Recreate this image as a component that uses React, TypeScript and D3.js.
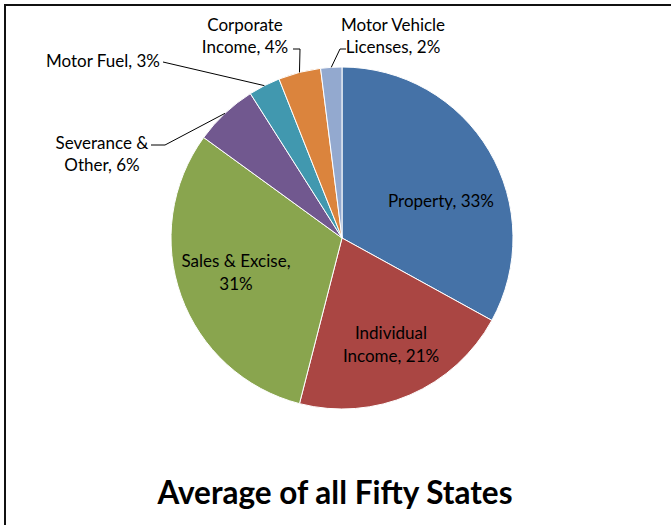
import * as d3 from "d3";
import { useEffect, useRef } from "react";

const categories = [
  "Property",
  "Individual Income",
  "Sales & Excise",
  "Severance & Other",
  "Motor Fuel",
  "Corporate Income",
  "Motor Vehicle Licenses",
];
const shares = [33, 21, 31, 6, 3, 4, 2];
const colors = ["#4572A7", "#AA4643", "#89A54E", "#71588F", "#4198AF", "#DB843D", "#93A9CF"];
// label lines, split the way the chart wraps them
const labelLines = [
  ["Property, 33%"],
  ["Individual", "Income, 21%"],
  ["Sales & Excise,", "31%"],
  ["Severance &", "Other, 6%"],
  ["Motor Fuel, 3%"],
  ["Corporate", "Income, 4%"],
  ["Motor Vehicle", "Licenses, 2%"],
];
const title = "Average of all Fifty States";

export default function App() {
  const ref = useRef(null);

  useEffect(() => {
    var width = 671;
    var height = 525;
    var cx = 342;
    var cy = 238;
    var radius = 171;
    var font = "Lato, 'Open Sans', sans-serif";
    var fs = "17px";
    var shift = 3; // Lato sits a bit high with a middle baseline

    var svg = d3
      .select(ref.current)
      .append("svg")
      .attr("width", width)
      .attr("height", height)
      .style("display", "block")
      .style("background", "white");

    // chart frame (runs off the right and bottom edge)
    svg
      .append("rect")
      .attr("x", 5)
      .attr("y", 5)
      .attr("width", width + 10)
      .attr("height", height + 10)
      .attr("fill", "white")
      .attr("stroke", "#111")
      .attr("stroke-width", 2);

    var g = svg.append("g").attr("transform", "translate(" + cx + "," + cy + ")");

    var pie = d3
      .pie<number>()
      .sort(null)
      .value((d) => d);
    var arcs = pie(shares);

    var arc = d3.arc<any>().innerRadius(0).outerRadius(radius);

    g.selectAll("path.slice")
      .data(arcs)
      .enter()
      .append("path")
      .attr("class", "slice")
      .attr("d", arc as any)
      .attr("fill", (d, i) => colors[i])
      .attr("stroke", "white")
      .attr("stroke-width", 1);

    // points on the rim where the leaders start
    var rim = (d: any, k: number) => {
      var a = d.startAngle + (d.endAngle - d.startAngle) * k;
      return [Math.sin(a) * radius, -Math.cos(a) * radius];
    };

    // inside labels
    var insidePos: { [k: number]: [number, number] } = {
      0: [441 - cx, 200 - cy],
      1: [391 - cx, 343 - cy],
      2: [236 - cx, 271 - cy],
    };
    // outside labels: text anchor pos, anchor, and leader bend
    var outside: { [k: number]: any } = {
      3: { x: 102 - cx, y: 142 - cy, anchor: "middle", bend: [[165 - cx, 145 - cy], [151 - cx, 145 - cy]] },
      4: { x: 160 - cx, y: 60 - cy, anchor: "end", bend: [[163 - cx, 62 - cy]] },
      5: { x: 245 - cx, y: 24 - cy, anchor: "middle", bend: [[300 - cx, 49 - cy], [293 - cx, 49 - cy]] },
      6: { x: 393 - cx, y: 24 - cy, anchor: "middle", bend: [[340 - cx, 49 - cy], [346 - cx, 49 - cy]] },
    };

    arcs.forEach((d, i) => {
      var lines = labelLines[i];
      if (insidePos[i]) {
        var p = insidePos[i];
        var t = g
          .append("text")
          .attr("x", p[0])
          .attr("y", p[1] + shift - ((lines.length - 1) * 23) / 2)
          .attr("text-anchor", "middle")
          .attr("dominant-baseline", "middle")
          .style("font-family", font)
          .style("font-size", fs)
          .attr("fill", "#000");
        lines.forEach((l, j) => {
          t.append("tspan").attr("x", p[0]).attr("dy", j === 0 ? 0 : 23).text(l);
        });
      } else {
        var o = outside[i];
        var t2 = g
          .append("text")
          .attr("x", o.x)
          .attr("y", o.y + shift)
          .attr("text-anchor", o.anchor)
          .attr("dominant-baseline", "middle")
          .style("font-family", font)
          .style("font-size", fs)
          .attr("fill", "#000");
        lines.forEach((l, j) => {
          t2.append("tspan").attr("x", o.x).attr("dy", j === 0 ? 0 : 22).text(l);
        });
        var start = rim(d, 0.5);
        var pts = [start].concat(o.bend);
        g.append("polyline")
          .attr("points", pts.map((q: any) => q.join(",")).join(" "))
          .attr("fill", "none")
          .attr("stroke", "#000")
          .attr("stroke-width", 1);
      }
    });

    svg
      .append("text")
      .attr("x", 335)
      .attr("y", 493 + shift)
      .attr("text-anchor", "middle")
      .attr("dominant-baseline", "middle")
      .style("font-family", font)
      .style("font-weight", "bold")
      .style("font-size", "31.5px")
      .attr("fill", "#000")
      .text(title);

    return function () {
      svg.remove();
    };
  }, []);

  return <div ref={ref} style={{ position: "fixed", left: 0, top: 0 }} />;
}
